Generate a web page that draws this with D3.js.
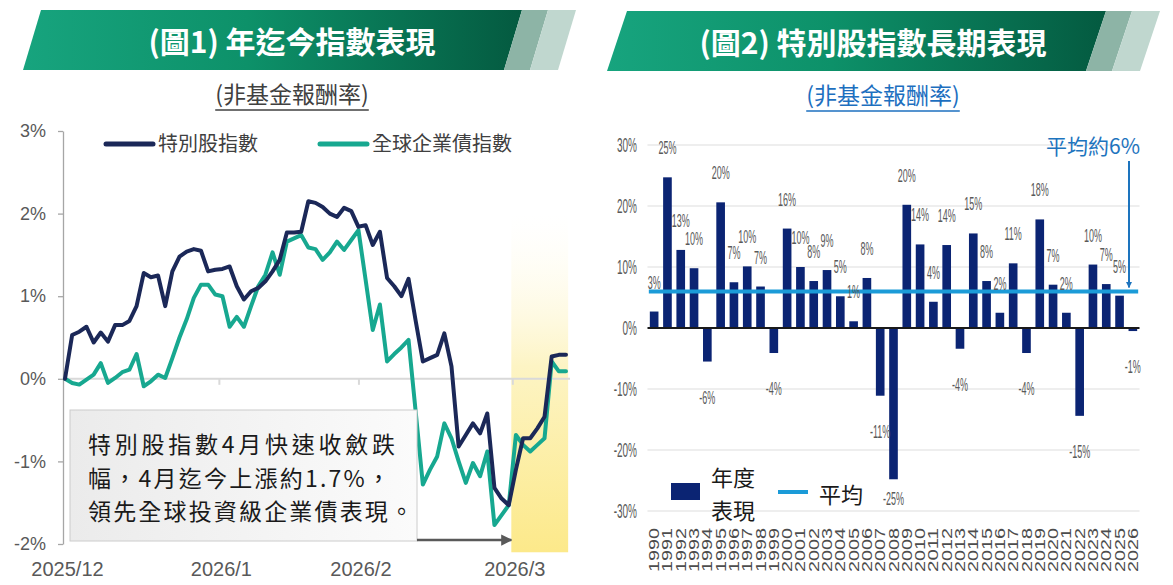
<!DOCTYPE html>
<html>
<head>
<meta charset="utf-8">
<script src="https://cdn.jsdelivr.net/npm/d3@7"></script>
<style>
  body { margin: 0; background: #fff; }
  svg { display: block; }
</style>
</head>
<body>
<div id="chart"></div>
<script>
// ---------- data: chart 1 (YTD, daily index points) ----------
const lineTickLabels = ['2025/12', '2026/1', '2026/2', '2026/3'];
const lineTickIndex = [0, 21.5, 41, 62.5];
const lineYTicks = [-2, -1, 0, 1, 2, 3];
const prefIndex = [
  0.00, 0.53, 0.57, 0.63, 0.44, 0.56, 0.45, 0.65, 0.65, 0.70,
  0.88, 1.28, 1.23, 1.25, 0.88, 1.30, 1.48, 1.54, 1.57, 1.55,
  1.30, 1.32, 1.33, 1.36, 1.12, 0.96, 1.06, 1.10, 1.18, 1.30,
  1.44, 1.77, 1.77, 1.78, 2.15, 2.13, 2.08, 2.00, 1.96, 2.07,
  2.03, 1.84, 1.86, 1.62, 1.78, 1.22, 1.12, 1.00, 1.21, 0.70,
  0.21, 0.25, 0.29, 0.55, 0.15, -0.82, -0.68, -0.54, -0.66, -0.42,
  -1.32, -1.45, -1.53, -1.10, -0.72, -0.72, -0.60, -0.46, 0.27, 0.29,
  0.29
];
const corpBondIndex = [
  0.00, -0.05, -0.07, -0.01, 0.05, 0.19, -0.05, 0.01, 0.08, 0.11,
  0.30, -0.09, -0.03, 0.05, 0.01, 0.25, 0.50, 0.72, 0.98, 1.14,
  1.14, 1.02, 1.00, 0.63, 0.75, 0.63, 0.88, 1.12, 1.26, 1.53,
  1.26, 1.66, 1.70, 1.74, 1.59, 1.57, 1.44, 1.53, 1.66, 1.56,
  1.68, 1.80, 1.20, 0.59, 0.90, 0.21, 0.30, 0.38, 0.47, -0.40,
  -1.28, -1.10, -0.94, -0.54, -0.72, -1.00, -1.26, -1.02, -1.18, -0.88,
  -1.77, -1.65, -1.53, -0.68, -0.80, -0.88, -0.80, -0.72, 0.21, 0.09,
  0.09
];
const lineSeriesNames = ['特別股指數', '全球企業債指數'];
const highlightRange = [62.5, 70.3];

// ---------- data: chart 2 (annual returns) ----------
const years = [
  '1990', '1991', '1992', '1993', '1994', '1995', '1996', '1997', '1998', '1999',
  '2000', '2001', '2002', '2003', '2004', '2005', '2006', '2007', '2008', '2009',
  '2010', '2011', '2012', '2013', '2014', '2015', '2016', '2017', '2018', '2019',
  '2020', '2021', '2022', '2023', '2024', '2025', '2026'
];
const annualReturn = [
  2.7, 24.7, 12.8, 9.8, -5.5, 20.6, 7.5, 10.1, 6.8, -4.1,
  16.3, 10.0, 7.7, 9.5, 5.2, 1.1, 8.2, -11.1, -24.8, 20.2,
  13.7, 4.3, 13.6, -3.4, 15.5, 7.7, 2.5, 10.6, -4.1, 17.8,
  7.1, 2.5, -14.4, 10.4, 7.2, 5.3, -0.5
];
const annualLabels = [
  '3%', '25%', '13%', '10%', '-6%', '20%', '7%', '10%', '7%', '-4%',
  '16%', '10%', '8%', '9%', '5%', '1%', '8%', '-11%', '-25%', '20%',
  '14%', '4%', '14%', '-4%', '15%', '8%', '2%', '11%', '-4%', '18%',
  '7%', '2%', '-15%', '10%', '7%', '5%', '-1%'
];
const avgReturn = 6;
const barYTicks = [-30, -20, -10, 0, 10, 20, 30];

const CJK = '"Noto Sans CJK TC", "Noto Sans", sans-serif';
const NUM = '"Liberation Sans", Arial, sans-serif';

const svg = d3.select('#chart').append('svg')
    .attr('width', 1173)
    .attr('height', 585);

// shared defs
const defs = svg.append('defs');
const bg = defs.append('linearGradient').attr('id', 'bannerGrad');
bg.append('stop').attr('offset', '0%').attr('stop-color', '#17a47e');
bg.append('stop').attr('offset', '45%').attr('stop-color', '#0d9169');
bg.append('stop').attr('offset', '100%').attr('stop-color', '#045a40');

const hg = defs.append('linearGradient').attr('id', 'hiGrad')
    .attr('x1', 0).attr('y1', 0).attr('x2', 0).attr('y2', 1);
hg.append('stop').attr('offset', '0%').attr('stop-color', '#fffdf2').attr('stop-opacity', 0);
hg.append('stop').attr('offset', '45%').attr('stop-color', '#fdf4c4');
hg.append('stop').attr('offset', '100%').attr('stop-color', '#fce98a');

const boxG = defs.append('linearGradient').attr('id', 'boxGrad');
boxG.append('stop').attr('offset', '0%').attr('stop-color', '#ebebeb');
boxG.append('stop').attr('offset', '100%').attr('stop-color', '#fbfbfb');

defs.append('marker').attr('id', 'arrGray')
    .attr('viewBox', '0 0 10 10').attr('refX', 9).attr('refY', 5)
    .attr('markerWidth', 4.5).attr('markerHeight', 4.5).attr('orient', 'auto')
  .append('path').attr('d', 'M0,0L10,5L0,10z').attr('fill', '#595959');

defs.append('marker').attr('id', 'arrBlue')
    .attr('viewBox', '0 0 10 10').attr('refX', 9).attr('refY', 5)
    .attr('markerWidth', 6).attr('markerHeight', 6).attr('orient', 'auto')
    .attr('markerUnits', 'userSpaceOnUse')
  .append('path').attr('d', 'M0,0L10,5L0,10z').attr('fill', '#1d74be');

function drawBanner(c) {
  const g = svg.append('g');
  const pts = (l, r) => [[l + c.slant, c.top], [r + c.slant, c.top], [r, c.bottom], [l, c.bottom]].join(' ');
  g.append('polygon').attr('points', pts(c.left, c.right)).attr('fill', 'url(#bannerGrad)');
  g.append('polygon').attr('points', pts(c.right, c.right + 26)).attr('fill', '#8db4a6');
  g.append('polygon').attr('points', pts(c.right + 26, c.right + 54)).attr('fill', '#c0d7cf');
  g.append('text')
      .attr('x', c.cx).attr('y', c.baseline)
      .attr('text-anchor', 'middle')
      .style('font-family', CJK).style('font-weight', 700).style('font-size', '30px')
      .attr('fill', '#fff')
      .text(c.title);

  const sub = g.append('text')
      .attr('x', c.subX).attr('y', c.subY)
      .attr('text-anchor', 'middle')
      .style('font-family', CJK).style('font-size', '23px')
      .attr('fill', c.subColor)
      .text('(非基金報酬率)');
  const w = sub.node().getComputedTextLength();
  g.append('line')
      .attr('x1', c.subX - w / 2).attr('x2', c.subX + w / 2)
      .attr('y1', c.subY + 7).attr('y2', c.subY + 7)
      .attr('stroke', c.subColor).attr('stroke-width', 1.5);
}

drawBanner({left: 23, right: 504, top: 10, bottom: 70, slant: 18, cx: 292, baseline: 53,
  title: '(圖1) 年迄今指數表現', subX: 292, subY: 103, subColor: '#404040'});
drawBanner({left: 607, right: 1086, top: 11, bottom: 71, slant: 20, cx: 873, baseline: 54,
  title: '(圖2) 特別股指數長期表現', subX: 883, subY: 104, subColor: '#1d6fbf'});

// ================= chart 1: lines =================
class LineChart {
  constructor() {
    this.config = {left: 63, xStart: 65, xEnd: 566, top: 131, bottom: 544, right: 570};
    this.initVis();
  }

  initVis() {
    let vis = this;
    const c = vis.config;
    vis.g = svg.append('g');

    vis.x = d3.scaleLinear().domain([0, prefIndex.length - 1]).range([c.xStart, c.xEnd]);
    vis.y = d3.scaleLinear().domain([-2, 3]).range([c.bottom, c.top]);

    // highlighted March window
    vis.g.append('rect')
        .attr('x', vis.x(highlightRange[0]) - 1)
        .attr('width', vis.x(highlightRange[1]) - vis.x(highlightRange[0]) + 1)
        .attr('y', vis.y(2.0))
        .attr('height', vis.y(-2.1) - vis.y(2.0))
        .attr('fill', 'url(#hiGrad)');

    // y axis
    const yAxis = d3.axisLeft(vis.y)
        .tickValues(lineYTicks)
        .tickFormat(d => d + '%')
        .tickSize(5).tickSizeOuter(0).tickPadding(12);
    const ya = vis.g.append('g').attr('transform', `translate(${c.left},0)`).call(yAxis);
    ya.select('.domain').attr('stroke', '#a6a6a6').attr('stroke-width', 1.3);
    ya.selectAll('.tick line').attr('stroke', '#a6a6a6').attr('stroke-width', 1.3);
    ya.selectAll('.tick text')
        .style('font-family', NUM).style('font-size', '18px').attr('fill', '#595959');

    // zero line with month ticks
    const xAxis = d3.axisBottom(vis.x)
        .tickValues(lineTickIndex.slice(1))
        .tickFormat('')
        .tickSize(6).tickSizeOuter(0);
    const xa = vis.g.append('g').attr('transform', `translate(0,${vis.y(0)})`).call(xAxis);
    xa.select('.domain').attr('d', `M${c.left},0H${c.right}`).attr('stroke', '#d9d9d9').attr('stroke-width', 2);
    xa.selectAll('.tick line').attr('stroke', '#d9d9d9').attr('stroke-width', 2);

    // month labels along the bottom
    const xLab = d3.axisBottom(vis.x)
        .tickValues(lineTickIndex)
        .tickFormat((d, i) => lineTickLabels[i])
        .tickSize(0);
    const xl = vis.g.append('g').attr('transform', 'translate(2,559)').call(xLab);
    xl.select('.domain').remove();
    xl.selectAll('.tick text')
        .style('font-family', NUM).style('font-size', '20px').attr('fill', '#595959');

    // series
    vis.line = d3.line().x((d, i) => vis.x(i)).y(d => vis.y(d));
    const series = [
      {name: lineSeriesNames[0], values: prefIndex, color: '#1b2858'},
      {name: lineSeriesNames[1], values: corpBondIndex, color: '#17a890'}
    ];
    vis.g.selectAll('.series')
        .data(series.slice().reverse())
        .join('path')
        .attr('class', 'series')
        .attr('d', d => vis.line(d.values))
        .attr('fill', 'none')
        .attr('stroke', d => d.color)
        .attr('stroke-width', 4)
        .attr('stroke-linejoin', 'round')
        .attr('stroke-linecap', 'round');

    // legend
    const legX = [106, 320];
    const leg = vis.g.selectAll('.leg').data(series).join('g')
        .attr('class', 'leg')
        .attr('transform', (d, i) => `translate(${legX[i]},144)`);
    leg.append('line').attr('x1', 0).attr('x2', 47)
        .attr('stroke', d => d.color).attr('stroke-width', 5).attr('stroke-linecap', 'round');
    leg.append('text').attr('x', 52).attr('y', 7)
        .style('font-family', CJK).style('font-size', '20px').attr('fill', '#404040')
        .text(d => d.name);

    // annotation box
    const box = {x: 70, y: 410, w: 347, h: 131};
    vis.g.append('rect')
        .attr('x', box.x).attr('y', box.y).attr('width', box.w).attr('height', box.h)
        .attr('fill', 'url(#boxGrad)').attr('stroke', '#cccccc').attr('stroke-width', 1);
    const lines = ['特別股指數4月快速收斂跌', '幅，4月迄今上漲約1.7%，', '領先全球投資級企業債表現。'];
    vis.g.selectAll('.note').data(lines).join('text')
        .attr('class', 'note')
        .attr('x', 88)
        .attr('y', (d, i) => 453 + i * 33.5)
        .attr('textLength', (d, i) => [307, 302, 325][i])
        .attr('lengthAdjust', 'spacing')
        .style('font-family', CJK).style('font-size', '23px').attr('fill', '#1a1a1a')
        .text(d => d);
    vis.g.append('line')
        .attr('x1', box.x + box.w).attr('x2', vis.x(highlightRange[0]) - 1)
        .attr('y1', box.y + box.h - 1).attr('y2', box.y + box.h - 1)
        .attr('stroke', '#595959').attr('stroke-width', 2.5)
        .attr('marker-end', 'url(#arrGray)');
  }
}

// ================= chart 2: bars =================
class BarChart {
  constructor() {
    this.config = {left: 647.5, right: 1139.5, top: 145, bottom: 511, labelRight: 637};
    this.initVis();
  }

  initVis() {
    let vis = this;
    const c = vis.config;
    vis.g = svg.append('g');

    vis.x = d3.scaleBand().domain(years).range([c.left, c.right])
        .paddingInner(0.35).paddingOuter(0.175);
    vis.y = d3.scaleLinear().domain([-30, 30]).range([c.bottom, c.top]);
    const bw = vis.x.bandwidth();

    // gridlines
    vis.g.selectAll('.grid').data(barYTicks.filter(d => d !== 0)).join('line')
        .attr('class', 'grid')
        .attr('x1', c.left).attr('x2', c.right)
        .attr('y1', d => vis.y(d)).attr('y2', d => vis.y(d))
        .attr('stroke', '#e8e8e8').attr('stroke-width', 1.6);

    // y labels (condensed)
    vis.g.selectAll('.ylab').data(barYTicks).join('text')
        .attr('class', 'ylab')
        .attr('transform', d => `translate(${c.labelRight},${vis.y(d) + 7}) scale(0.5,1)`)
        .attr('text-anchor', 'end')
        .style('font-family', NUM).style('font-size', '20px').attr('fill', '#595959')
        .text(d => d + '%');

    // bars
    vis.g.selectAll('.bar').data(annualReturn).join('rect')
        .attr('class', 'bar')
        .attr('x', (d, i) => vis.x(years[i]))
        .attr('width', bw)
        .attr('y', d => vis.y(Math.max(0, d)))
        .attr('height', d => Math.abs(vis.y(d) - vis.y(0)))
        .attr('fill', '#0b2473');

    // zero line
    vis.g.append('line')
        .attr('x1', c.left).attr('x2', c.right)
        .attr('y1', vis.y(0)).attr('y2', vis.y(0))
        .attr('stroke', '#1a1a1a').attr('stroke-width', 2);

    // average line
    vis.g.append('line')
        .attr('x1', vis.x(years[0]) - 1)
        .attr('x2', vis.x(years[years.length - 1]) + bw + 1)
        .attr('y1', vis.y(avgReturn)).attr('y2', vis.y(avgReturn))
        .attr('stroke', '#1b9bd8').attr('stroke-width', 4);

    // value labels (kept inside plot area)
    vis.g.selectAll('.vlab').data(annualReturn).join('text')
        .attr('class', 'vlab')
        .attr('transform', (d, i) => {
          const cx = vis.x(years[i]) + bw / 2;
          const by = d >= 0 ? vis.y(d) - 23 : Math.min(vis.y(d) + 42, c.bottom - 6);
          return `translate(${cx},${by}) scale(0.5,1)`;
        })
        .attr('text-anchor', 'middle')
        .style('font-family', NUM).style('font-size', '18px').attr('fill', '#595959')
        .text((d, i) => annualLabels[i]);

    // year labels (rotated)
    vis.g.selectAll('.year').data(years).join('text')
        .attr('class', 'year')
        .attr('transform', d => `translate(${vis.x(d) + bw / 2},528) rotate(-90)`)
        .attr('text-anchor', 'end')
        .attr('dy', '0.36em')
        .attr('textLength', 44).attr('lengthAdjust', 'spacingAndGlyphs')
        .style('font-family', NUM).style('font-size', '14px').attr('fill', '#4d4d4d')
        .text(d => d);

    // legend
    vis.g.append('rect').attr('x', 671).attr('y', 483).attr('width', 29).attr('height', 17)
        .attr('fill', '#0b2473');
    vis.g.append('text')
        .style('font-family', CJK).style('font-size', '22px').attr('fill', '#1a1a1a')
      .selectAll('tspan').data(['年度', '表現']).join('tspan')
        .attr('x', 711).attr('y', (d, i) => 486 + i * 33)
        .text(d => d);
    vis.g.append('line').attr('x1', 778).attr('x2', 808).attr('y1', 492).attr('y2', 492)
        .attr('stroke', '#1b9bd8').attr('stroke-width', 4);
    vis.g.append('text').attr('x', 819).attr('y', 503)
        .style('font-family', CJK).style('font-size', '22px').attr('fill', '#1a1a1a')
        .text('平均');

    // average callout
    vis.g.append('text').attr('x', 1046).attr('y', 154)
        .style('font-family', CJK).style('font-size', '21px').attr('fill', '#1d74be')
        .text('平均約6%');
    vis.g.append('line')
        .attr('x1', 1129).attr('x2', 1129)
        .attr('y1', 161).attr('y2', vis.y(avgReturn) - 4)
        .attr('stroke', '#1d74be').attr('stroke-width', 2)
        .attr('marker-end', 'url(#arrBlue)');
  }
}

new LineChart();
new BarChart();
</script>
</body>
</html>
